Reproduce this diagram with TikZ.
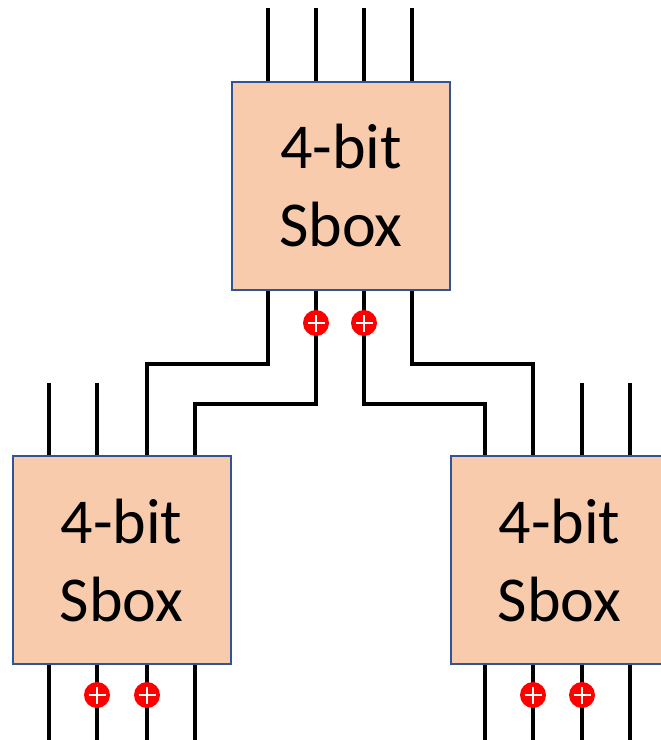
\documentclass[tikz,border=0pt]{standalone}
\usepackage{fontspec}
\setmainfont{Carlito}
\begin{document}
\begin{tikzpicture}[x=1pt,y=-1pt,
  sbox/.style={draw={rgb,255:red,47;green,85;blue,151},line width=2pt,fill={rgb,255:red,248;green,203;blue,173},minimum width=218pt,minimum height=208pt,inner sep=0pt,align=center,font=\fontsize{64}{78}\selectfont},
  wire/.style={line width=4pt},
  xorg/.style={circle,fill=red,minimum size=26pt,inner sep=0pt,path picture={\draw[white,line width=2.8pt] ([xshift=-8.5pt]path picture bounding box.center) -- ([xshift=8.5pt]path picture bounding box.center) ([yshift=-8.5pt]path picture bounding box.center) -- ([yshift=8.5pt]path picture bounding box.center);}}]
\useasboundingbox (0,0) rectangle (661,740);
\clip (0,0) rectangle (661,740);
% top-box wires
\foreach \x/\n in {268/a,316/b,364/c,412/d}{
  \coordinate (t\n) at (\x,8);
  \coordinate (u\n) at (\x,290);
}
% left-box wires
\foreach \x/\n in {49/a,97/b,147/c,195/d}{
  \coordinate (lt\n) at (\x,383);
  \coordinate (le\n) at (\x,740);
}
% right-box wires
\foreach \x/\n in {485/a,533/b,582/c,630/d}{
  \coordinate (rt\n) at (\x,383);
  \coordinate (re\n) at (\x,740);
}
% routing corners
\coordinate (k1) at (147,364);
\coordinate (k2) at (195,404);
\coordinate (k3) at (485,404);
\coordinate (k4) at (533,364);

% boxes
\node[sbox] (top) at (341,185.5) {4-bit\\Sbox};
\node[sbox] (left) at (121.5,560) {4-bit\\Sbox};
\node[sbox] (right) at (559.5,560) {4-bit\\Sbox};

% top inputs
\foreach \n in {a,b,c,d} \draw[wire] (t\n) -- (t\n |- top.north);
% top outputs routed to lower boxes
\draw[wire] (top.south -| ua) |- (k1) -- (k1 |- left.north);
\draw[wire] (top.south -| ub) |- (k2) -- (k2 |- left.north);
\draw[wire] (top.south -| uc) |- (k3) -- (k3 |- right.north);
\draw[wire] (top.south -| ud) |- (k4) -- (k4 |- right.north);
% other lower inputs
\draw[wire] (lta) -- (lta |- left.north);
\draw[wire] (ltb) -- (ltb |- left.north);
\draw[wire] (rtc) -- (rtc |- right.north);
\draw[wire] (rtd) -- (rtd |- right.north);
% lower outputs
\foreach \n in {a,b,c,d}{
  \draw[wire] (left.south -| le\n) -- (le\n);
  \draw[wire] (right.south -| re\n) -- (re\n);
}
% xor gates
\node[xorg] (x1) at (316,323) {};
\node[xorg] (x2) at (364,323) {};
\node[xorg] (x3) at (97,695) {};
\node[xorg] (x4) at (147,695) {};
\node[xorg] (x5) at (533,695) {};
\node[xorg] (x6) at (582,695) {};
\end{tikzpicture}
\end{document}
